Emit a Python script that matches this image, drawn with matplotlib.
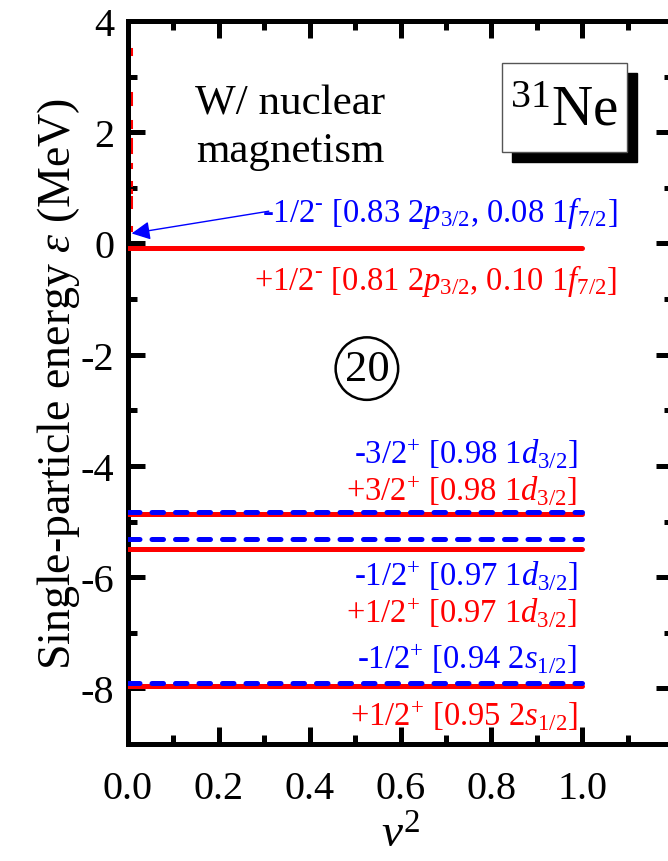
import matplotlib
matplotlib.use("Agg")
import matplotlib.pyplot as plt
from matplotlib.patches import Rectangle

plt.rcParams['font.family'] = ['Liberation Serif', 'DejaVu Serif']
plt.rcParams['mathtext.fontset'] = 'custom'
plt.rcParams['mathtext.rm'] = 'Liberation Serif'
plt.rcParams['mathtext.it'] = 'Liberation Serif:italic'
plt.rcParams['mathtext.bf'] = 'Liberation Serif:bold'

# ---- data ----
# bound levels: occupation v^2 range (0 -> 1), energies (MeV)
red_levels = [-0.09, -4.86, -5.49, -7.95]
blue_levels = [-4.82, -5.32, -7.90]
level_v2_max = 1.0
# blue -1/2^- level at v^2 = 0 (arrow target)
blue_unbound_level = 0.18
# red continuum levels at v^2 = 0, drawn as short marks (low, high) MeV
red_continuum = [(3.40, 3.50), (2.50, 2.70), (2.10, 2.20), (1.65, 1.87),
                 (1.37, 1.42), (1.06, 1.11), (0.92, 0.97), (0.66, 0.83),
                 (0.25, 0.30)]

blue_labels = [r"-1/2$^{\text{-}}$ [0.83 2$p_{3/2}$, 0.08 1$f_{7/2}$]",
               r"-3/2$^{+}$ [0.98 1$d_{3/2}$]",
               r"-1/2$^{+}$ [0.97 1$d_{3/2}$]",
               r"-1/2$^{+}$ [0.94 2$s_{1/2}$]"]
blue_label_x = [1.077, 0.99, 0.99, 0.99]
blue_label_y = [0.56, -3.76, -5.96, -7.45]
red_labels = [r"+1/2$^{\text{-}}$ [0.81 2$p_{3/2}$, 0.10 1$f_{7/2}$]",
              r"+3/2$^{+}$ [0.98 1$d_{3/2}$]",
              r"+1/2$^{+}$ [0.97 1$d_{3/2}$]",
              r"+1/2$^{+}$ [0.95 2$s_{1/2}$]"]
red_label_x = [1.077, 0.99, 0.99, 0.99]
red_label_y = [-0.65, -4.43, -6.62, -8.48]

xticks = [0.0, 0.2, 0.4, 0.6, 0.8, 1.0]
xticklabels = ["0.0", "0.2", "0.4", "0.6", "0.8", "1.0"]
yticks = [-8, -6, -4, -2, 0, 2, 4]
yticklabels = ["-8", "-6", "-4", "-2", "0", "2", "4"]

RED = "#ff0000"
BLUE = "#0000ff"

fig = plt.figure(figsize=(6.68, 8.62), dpi=100)
ax = fig.add_axes([128/668, 1-745/862, 545/668, 723/862])
ax.set_xlim(0, 1.2)
ax.set_ylim(-9, 4)

for e in red_levels:
    ax.plot([0, level_v2_max], [e, e], color=RED, lw=3.6, solid_capstyle='round', zorder=3)
for e in blue_levels:
    ax.plot([0, level_v2_max], [e, e], color=BLUE, lw=3.6, linestyle=(0, (2.3, 2.4)),
            dash_capstyle='round', zorder=4)
for lo, hi in red_continuum:
    ax.plot([0.006, 0.006], [lo, hi], color=RED, lw=2.2, zorder=2, clip_on=False)

# labels
for s, x, y in zip(blue_labels, blue_label_x, blue_label_y):
    ax.text(x, y, s, color=BLUE, fontsize=23.5, ha='right', va='center')
for s, x, y in zip(red_labels, red_label_x, red_label_y):
    ax.text(x, y, s, color=RED, fontsize=23.5, ha='right', va='center')

ax.annotate("", xy=(0.008, blue_unbound_level), xytext=(0.31, 0.58),
            arrowprops=dict(arrowstyle='-|>', color=BLUE, lw=1.0, mutation_scale=28,
                            shrinkA=0, shrinkB=0))

ax.text(0.357, 2.09, "W/ nuclear\nmagnetism", fontsize=31, ha='center', va='center',
        linespacing=1.3)

# circled 20
ax.text(0.526, -2.25, "20", fontsize=32, ha='center', va='center',
        bbox=dict(boxstyle='circle,pad=0.2', fc='none', ec='black', lw=1.8))

# 31Ne box with shadow (figure pixel coords)
bx0, by0, bw, bh = 502, 862-153, 125, 89
fig.patches.append(Rectangle((bx0+10, by0-10), bw, bh, transform=None,
                             facecolor='black', edgecolor='black', zorder=5))
fig.patches.append(Rectangle((bx0, by0), bw, bh, transform=None,
                             facecolor='white', edgecolor='#555555', lw=1.0, zorder=6))
fig.text((bx0+bw/2)/668, (by0+bh/2-3)/862, r"$^{31}$Ne", fontsize=41, ha='center',
         va='center', zorder=7)

ax.set_xticks(xticks)
ax.set_xticklabels(xticklabels)
ax.set_yticks(yticks)
ax.set_yticklabels(yticklabels)
ax.set_xticks([0.1, 0.3, 0.5, 0.7, 0.9, 1.1], minor=True)
ax.set_yticks([-9, -7, -5, -3, -1, 1, 3], minor=True)
ax.tick_params(axis='x', which='major', direction='in', top=True, bottom=True,
               width=3.6, length=12, pad=19, labelsize=29)
ax.tick_params(axis='x', which='minor', direction='in', top=True, bottom=True,
               width=3.6, length=6.5)
ax.tick_params(axis='y', which='major', direction='in', left=True, right=True,
               width=3.6, length=12, pad=10, labelsize=29)
ax.tick_params(axis='y', which='minor', direction='in', left=True, right=True,
               width=3.6, length=6.5)
for sp in ax.spines.values():
    sp.set_linewidth(3.6)

ax.set_ylabel(r"Single-particle energy $\varepsilon$ (MeV)", fontsize=33, labelpad=-1)
ax.set_xlabel(r"$v^2$", fontsize=34, labelpad=5)

fig.savefig("out.png", dpi=100)
